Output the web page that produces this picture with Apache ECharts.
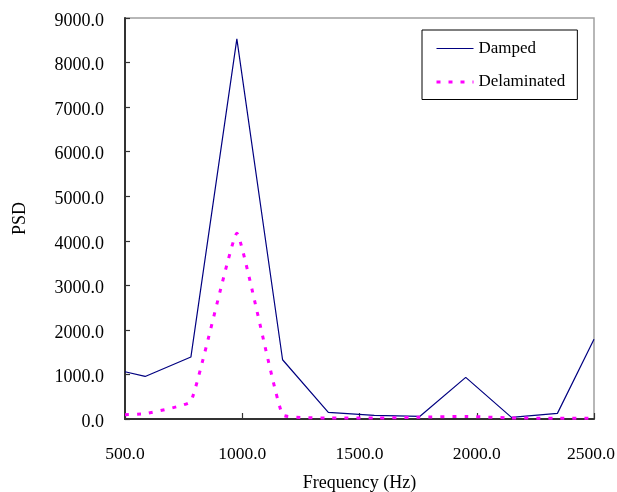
<!DOCTYPE html>
<html>
<head>
<meta charset="utf-8">
<script src="https://cdn.jsdelivr.net/npm/echarts@6/dist/echarts.min.js"></script>
<style>html,body{margin:0;padding:0;background:#fff}#c{width:617px;height:492px}</style>
</head>
<body>
<div id="c"></div>
<script>
const frequencies = [500, 586, 781, 977, 1172, 1367, 1563, 1758, 1953, 2148, 2344, 2500];
const damped = [1060, 955, 1390, 8530, 1330, 148, 82, 60, 935, 36, 126, 1790];
const delaminated = [96, 119, 395, 4170, 96, 22, 20, 40, 58, 24, 15, 15];
const xTicks = [500, 1000, 1500, 2000, 2500];
const yTicks = [0, 1000, 2000, 3000, 4000, 5000, 6000, 7000, 8000, 9000];

const font = 'Liberation Serif';
const chart = echarts.init(document.getElementById('c'), null, {renderer: 'canvas'});
const pair = (xs, ys) => xs.map((x, i) => [x, ys[i]]);
const xMax = xTicks[xTicks.length - 1];
chart.setOption({
  animation: false,
  backgroundColor: '#fff',
  textStyle: {fontFamily: font, color: '#000'},
  grid: {left: 125, top: 18, width: 469, height: 401, show: true, borderColor: '#a0a0a0', borderWidth: 1.5, backgroundColor: 'transparent', outerBoundsMode: 'none', containLabel: false},
  legend: {
    orient: 'vertical', left: 422, top: 30,
    padding: [10, 12, 9, 13],
    itemWidth: 37, itemHeight: 14, itemGap: 16.5,
    borderColor: '#000', borderWidth: 1, backgroundColor: '#fff',
    itemStyle: {opacity: 0},
    lineStyle: {width: 'inherit'},
    textStyle: {fontFamily: font, fontSize: 17, color: '#000'},
    data: ['Damped', 'Delaminated']
  },
  xAxis: {
    type: 'value', min: xTicks[0], max: xMax, interval: 500,
    name: 'Frequency (Hz)', nameLocation: 'middle', nameGap: 55,
    nameTextStyle: {fontFamily: font, fontSize: 18, color: '#000'},
    axisLine: {lineStyle: {color: '#333', width: 2}},
    axisTick: {inside: true, length: 6, lineStyle: {color: '#333', width: 1.2}},
    axisLabel: {
      fontFamily: font, fontSize: 17.5, color: '#000', margin: 26,
      formatter: v => v === xMax ? '{r|' + v.toFixed(1) + '}' : v.toFixed(1),
      rich: {r: {fontFamily: font, fontSize: 17.5, color: '#000', padding: [0, 6, 0, 0]}}
    },
    splitLine: {show: false}
  },
  yAxis: {
    type: 'value', min: yTicks[0], max: yTicks[yTicks.length - 1], interval: 1000,
    name: 'PSD', nameLocation: 'middle', nameGap: 96,
    nameTextStyle: {fontFamily: font, fontSize: 18, color: '#000'},
    axisLine: {show: true, lineStyle: {color: '#333', width: 2}},
    axisTick: {show: true, inside: true, length: 5, lineStyle: {color: '#333', width: 1.2}},
    axisLabel: {
      fontFamily: font, fontSize: 18, color: '#000', margin: 21,
      formatter: v => '{d|' + v.toFixed(1) + '}',
      rich: {d: {fontFamily: font, fontSize: 18, color: '#000', padding: [6, 0, 0, 0]}}
    },
    splitLine: {show: false}
  },
  series: [
    {
      name: 'Damped', type: 'line', data: pair(frequencies, damped),
      symbol: 'none', clip: true,
      lineStyle: {color: '#000080', width: 1.2},
      itemStyle: {color: '#000080'}
    },
    {
      name: 'Delaminated', type: 'line', data: pair(frequencies, delaminated),
      symbol: 'none', clip: true, smooth: 0.1,
      lineStyle: {color: '#FF00FF', width: 3, type: [4, 8]},
      itemStyle: {color: '#FF00FF'}
    }
  ]
});
</script>
</body>
</html>
